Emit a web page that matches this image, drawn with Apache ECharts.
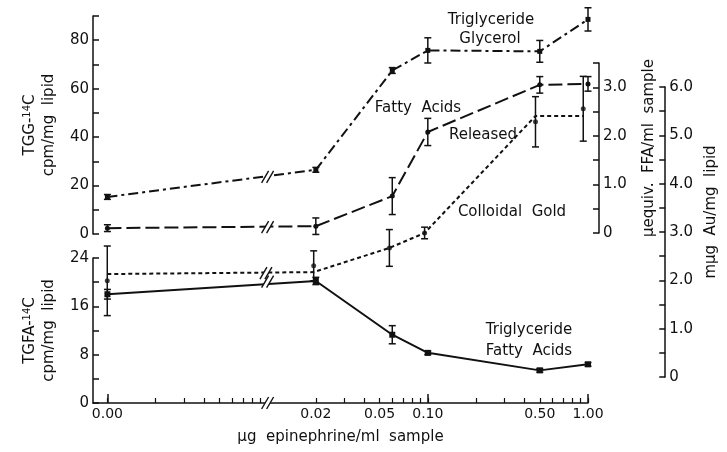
<!DOCTYPE html>
<html>
<head>
<meta charset="utf-8">
<script src="https://cdn.jsdelivr.net/npm/echarts@6/dist/echarts.min.js"></script>
<style>
  html, body { margin: 0; padding: 0; background: #fff; }
  #chart { width: 727px; height: 452px; }
</style>
</head>
<body>
<div id="chart"></div>
<script>
// dose positions (ug/ml); the "0.00" group sits in the 0.001 slot left of the axis break
var doses = [0.001, 0.02, 0.06, 0.1, 0.5, 1.0];
var xMinorTicks = [0.001, 0.002, 0.003, 0.004, 0.005, 0.006, 0.007, 0.008, 0.009,
                   0.02, 0.03, 0.04, 0.05, 0.06, 0.07, 0.08, 0.09,
                   0.1, 0.2, 0.3, 0.4, 0.5, 0.6, 0.7, 0.8, 0.9, 1.0];
var xMajorTicks = [0.001, 0.1, 1.0];
var xLabelDoses = [0.001, 0.02, 0.05, 0.1, 0.5, 1.0];
var xLabelText = ['0.00', '0.02', '0.05', '0.10', '0.50', '1.00'];
var breakDose = 0.01;

// triglyceride glycerol, cpm/mg lipid
var tggValues = [15.3, 26.5, 67.5, 75.8, 75.4, 88.6];
var tggErr = [1.0, 1.0, 1.2, 5.2, 4.5, 4.8];
// fatty acids released, uequiv FFA/ml sample
var ffaValues = [0.10, 0.14, 0.76, 2.08, 3.05, 3.07];
var ffaErr = [0.07, 0.17, 0.38, 0.28, 0.17, 0.15];
// colloidal gold, mug Au/mg lipid (points and the dotted line drawn through them)
var goldValues = [1.99, 2.30, 2.67, 2.98, 5.28, 5.55];
var goldErr = [0.72, 0.31, 0.38, 0.12, 0.52, 0.67];
var goldLine = [2.13, 2.17, 2.67, 2.98, 5.40, 5.40];
// triglyceride fatty acids, cpm/mg lipid
var tgfaValues = [18.0, 20.2, 11.3, 8.3, 5.4, 6.4];
var tgfaErr = [0.8, 0.6, 1.5, 0.3, 0.3, 0.3];

// where each curve crosses the break
var breakTgg = [23.6];
var breakFfa = [0.12];
var breakGold = [2.15];
var breakTgfa = [20.1, 0];

var ink = '#111';
var fontFam = 'DejaVu Sans';
var lg = function (v) { return Math.log10(v); };

function pts(vals) {
  return vals.map(function (v, i) { return [lg(doses[i]), v]; });
}
function errs(vals, e) {
  return vals.map(function (v, i) { return [lg(doses[i]), v - e[i], v + e[i]]; });
}
function breaks(levels) {
  return levels.map(function (v) { return [lg(breakDose), v]; });
}

function renderErr(params, api) {
  var lo = api.coord([api.value(0), api.value(1)]);
  var hi = api.coord([api.value(0), api.value(2)]);
  var w = 3.5;
  var st = { stroke: ink, lineWidth: 1.5 };
  return {
    type: 'group',
    children: [
      { type: 'line', shape: { x1: lo[0], y1: lo[1], x2: hi[0], y2: hi[1] }, style: st },
      { type: 'line', shape: { x1: lo[0] - w, y1: lo[1], x2: lo[0] + w, y2: lo[1] }, style: st },
      { type: 'line', shape: { x1: hi[0] - w, y1: hi[1], x2: hi[0] + w, y2: hi[1] }, style: st }
    ]
  };
}

function renderBreak(params, api) {
  var p = api.coord([api.value(0), api.value(1)]);
  var x = p[0], y = p[1], h = 6, s = 3.5, g = 2.5;
  var st = { stroke: ink, lineWidth: 1.4 };
  return {
    type: 'group',
    children: [
      { type: 'polygon', shape: { points: [[x - g - s, y + h], [x - g + s, y - h], [x + g + s, y - h], [x + g - s, y + h]] }, style: { fill: '#fff' } },
      { type: 'line', shape: { x1: x - g - s, y1: y + h, x2: x - g + s, y2: y - h }, style: st },
      { type: 'line', shape: { x1: x + g - s, y1: y + h, x2: x + g + s, y2: y - h }, style: st }
    ]
  };
}

var xMin = -3.09, xMax = 0;
function hiddenX(i) {
  return { gridIndex: i, type: 'value', min: xMin, max: xMax, show: false };
}

var axisCommon = {
  type: 'value',
  axisLine: { show: true, onZero: false, lineStyle: { color: ink, width: 1.5 } },
  axisTick: { show: true, inside: true, length: 6, lineStyle: { color: ink, width: 1.5 } },
  splitLine: { show: false },
  axisLabel: { color: ink, fontSize: 15, fontFamily: fontFam, margin: 4 },
  nameTextStyle: { color: ink, fontSize: 15, fontFamily: fontFam }
};
function yAx(extra) {
  var o = JSON.parse(JSON.stringify(axisCommon));
  for (var k in extra) o[k] = extra[k];
  return o;
}
var supStyle = { fontSize: 10, fontFamily: fontFam, color: ink, padding: [0, 0, 7, 0] };

var chart = echarts.init(document.getElementById('chart'));
chart.setOption({
  animation: false,
  backgroundColor: '#fff',
  textStyle: { fontFamily: fontFam, color: ink },
  grid: [
    { left: 93, right: 139, top: 16, bottom: 218 },
    { left: 93, right: 139, top: 63, bottom: 219 },
    { left: 93, right: 139, top: 87, bottom: 75 },
    { left: 93, right: 139, top: 258, bottom: 49 }
  ],
  xAxis: [
    hiddenX(0), hiddenX(1), hiddenX(2),
    {
      gridIndex: 3, type: 'value', min: xMin, max: xMax, position: 'bottom',
      axisLine: { show: true, onZero: false, lineStyle: { color: ink, width: 1.5 } },
      axisTick: { show: true, inside: true, length: 5, lineStyle: { color: ink, width: 1.2 },
                  customValues: xMinorTicks.map(lg) },
      axisLabel: {
        color: ink, fontSize: 14, fontFamily: fontFam, margin: 4,
        customValues: xLabelDoses.map(lg),
        formatter: function (v) {
          var best = 0;
          xLabelDoses.forEach(function (d, i) {
            if (Math.abs(lg(d) - v) < Math.abs(lg(xLabelDoses[best]) - v)) best = i;
          });
          return xLabelText[best];
        }
      },
      splitLine: { show: false },
      name: '\u00b5g  epinephrine/ml  sample',
      nameLocation: 'middle', nameGap: 27,
      nameTextStyle: { color: ink, fontSize: 15, fontFamily: fontFam }
    },
    {
      gridIndex: 3, type: 'value', min: xMin, max: xMax, position: 'bottom',
      axisLine: { show: false, onZero: false },
      axisTick: { show: true, inside: true, length: 9, lineStyle: { color: ink, width: 1.5 },
                  customValues: xMajorTicks.map(lg) },
      axisLabel: { show: false },
      splitLine: { show: false }
    }
  ],
  yAxis: [
    yAx({
      gridIndex: 0, position: 'left', min: 0, max: 90, interval: 10,
      axisLabel: { color: ink, fontSize: 15, fontFamily: fontFam, margin: 4,
                   formatter: function (v) { return v % 20 === 0 ? v : ''; } },
      name: 'TGG-{sup|14}C\ncpm/mg  lipid', nameLocation: 'middle', nameRotate: 90, nameGap: 30,
      nameTextStyle: { color: ink, fontSize: 15, fontFamily: fontFam, lineHeight: 19, rich: { sup: supStyle } }
    }),
    yAx({
      gridIndex: 1, position: 'right', offset: 11, min: 0, max: 3.5, interval: 0.5,
      axisLabel: { color: ink, fontSize: 15, fontFamily: fontFam, margin: 4,
                   formatter: function (v) { return v === 0 ? '0' : (v % 1 === 0 ? v.toFixed(1) : ''); } },
      name: '\u00b5equiv.  FFA/ml  sample', nameLocation: 'middle', nameRotate: 90, nameGap: 43
    }),
    yAx({
      gridIndex: 2, position: 'right', offset: 82, min: 0, max: 6, interval: 0.5,
      axisLabel: { color: ink, fontSize: 15, fontFamily: fontFam, margin: 4,
                   formatter: function (v) { return v === 0 ? '0' : (v % 1 === 0 ? v.toFixed(1) : ''); } },
      name: 'm\u00b5g  Au/mg  lipid', nameLocation: 'middle', nameRotate: 90, nameGap: 33,
      nameTextStyle: { color: ink, fontSize: 15, fontFamily: fontFam, padding: [0, 0, 0, 40] }
    }),
    yAx({
      gridIndex: 3, position: 'left', min: 0, max: 24, interval: 4,
      axisLabel: { color: ink, fontSize: 15, fontFamily: fontFam, margin: 4,
                   formatter: function (v) { return v % 8 === 0 ? v : ''; } },
      name: 'TGFA-{sup|14}C\ncpm/mg  lipid', nameLocation: 'middle', nameRotate: 90, nameGap: 30,
      nameTextStyle: { color: ink, fontSize: 15, fontFamily: fontFam, lineHeight: 19, rich: { sup: supStyle } }
    })
  ],
  series: [
    {
      type: 'line', xAxisIndex: 0, yAxisIndex: 0, data: pts(tggValues),
      symbol: 'rect', symbolSize: 5, showAllSymbol: true,
      lineStyle: { color: ink, width: 2, type: [10, 4, 3, 4] }, itemStyle: { color: ink }
    },
    { type: 'custom', xAxisIndex: 0, yAxisIndex: 0, data: errs(tggValues, tggErr), renderItem: renderErr, z: 3 },
    {
      type: 'line', xAxisIndex: 1, yAxisIndex: 1, data: pts(ffaValues),
      symbol: 'circle', symbolSize: 5,
      lineStyle: { color: ink, width: 2, type: [14, 5] }, itemStyle: { color: ink }
    },
    { type: 'custom', xAxisIndex: 1, yAxisIndex: 1, data: errs(ffaValues, ffaErr), renderItem: renderErr, z: 3 },
    {
      type: 'line', xAxisIndex: 2, yAxisIndex: 2, data: pts(goldLine), showSymbol: false,
      lineStyle: { color: ink, width: 2, type: [4, 3] }
    },
    {
      type: 'scatter', xAxisIndex: 2, yAxisIndex: 2, data: pts(goldValues),
      symbol: 'circle', symbolSize: 5, itemStyle: { color: ink }
    },
    { type: 'custom', xAxisIndex: 2, yAxisIndex: 2, data: errs(goldValues, goldErr), renderItem: renderErr, z: 3 },
    {
      type: 'line', xAxisIndex: 3, yAxisIndex: 3, data: pts(tgfaValues),
      symbol: 'rect', symbolSize: 6,
      lineStyle: { color: ink, width: 2 }, itemStyle: { color: ink }
    },
    { type: 'custom', xAxisIndex: 3, yAxisIndex: 3, data: errs(tgfaValues, tgfaErr), renderItem: renderErr, z: 3 },
    { type: 'custom', xAxisIndex: 0, yAxisIndex: 0, data: breaks(breakTgg), renderItem: renderBreak, z: 6 },
    { type: 'custom', xAxisIndex: 1, yAxisIndex: 1, data: breaks(breakFfa), renderItem: renderBreak, z: 6 },
    { type: 'custom', xAxisIndex: 2, yAxisIndex: 2, data: breaks(breakGold), renderItem: renderBreak, z: 6 },
    { type: 'custom', xAxisIndex: 3, yAxisIndex: 3, data: breaks(breakTgfa), renderItem: renderBreak, z: 6 }
  ],
  graphic: [
    { type: 'text', x: 491, y: 20, style: { text: 'Triglyceride', font: '15px ' + fontFam, fill: ink, align: 'center', verticalAlign: 'middle' } },
    { type: 'text', x: 490, y: 39, style: { text: 'Glycerol', font: '15px ' + fontFam, fill: ink, align: 'center', verticalAlign: 'middle' } },
    { type: 'text', x: 418, y: 108, style: { text: 'Fatty  Acids', font: '15px ' + fontFam, fill: ink, align: 'center', verticalAlign: 'middle' } },
    { type: 'text', x: 483, y: 135, style: { text: 'Released', font: '15px ' + fontFam, fill: ink, align: 'center', verticalAlign: 'middle' } },
    { type: 'text', x: 512, y: 212, style: { text: 'Colloidal  Gold', font: '15px ' + fontFam, fill: ink, align: 'center', verticalAlign: 'middle' } },
    { type: 'text', x: 529, y: 330, style: { text: 'Triglyceride', font: '15px ' + fontFam, fill: ink, align: 'center', verticalAlign: 'middle' } },
    { type: 'text', x: 529, y: 351, style: { text: 'Fatty  Acids', font: '15px ' + fontFam, fill: ink, align: 'center', verticalAlign: 'middle' } }
  ]
});
</script>
</body>
</html>
